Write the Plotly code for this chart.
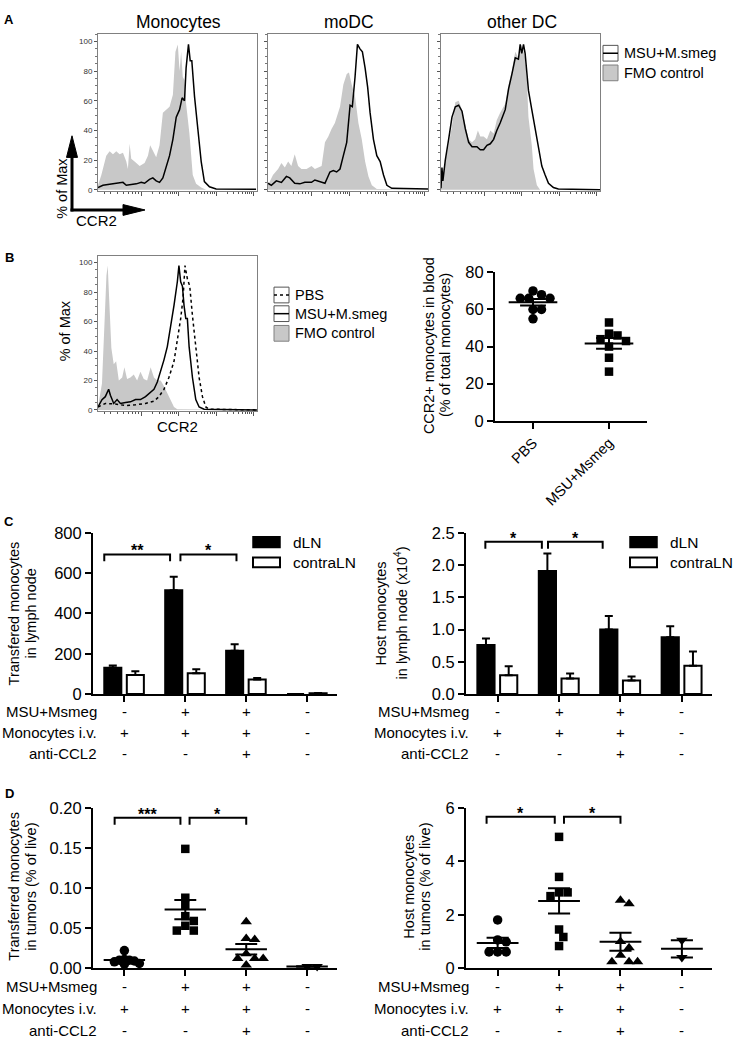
import numpy as np
import plotly.graph_objects as go

W, H = 733, 1047
FONT = "Liberation Sans, Arial, Helvetica, sans-serif"
GREY = "#c8c8c8"

# ----------------------------------------------------------------- data
# Panel A: CCR2 histograms (channel position 0-100 across plot, % of max)
hist_titles = ["Monocytes", "moDC", "other DC"]

mono_fmo_ch = [0.0, 2.1, 5.2, 7.3, 9.4, 11.5, 13.6, 15.7, 17.8, 18.8, 19.9, 20.9, 23.0, 26.2, 29.3, 31.4, 32.8, 34.5, 36.6, 38.7,
               40.8, 42.9, 45.0, 47.1, 48.7, 50.2, 51.3, 52.3, 53.3, 54.4, 55.4, 57.5, 58.6, 59.6, 61.7, 64.9, 68.0, 100]
mono_fmo_pct = [3, 10, 23, 26, 24, 26, 24, 25, 19, 14, 31, 21, 19, 16, 18, 23, 30, 26, 22, 30,
                52, 54, 56, 64, 93, 98, 80, 93, 76, 74, 58, 38, 23, 10, 4, 1.5, 0, 0]
mono_msu_ch = [0, 3.1, 9.4, 15.7, 17.8, 24.1, 27.2, 29.3, 32.4, 34.5, 36.6, 38.7, 40.8, 42.9, 45.0, 47.1, 49.2, 51.3, 52.9, 54.4,
               55.4, 56.9, 58.0, 59.0, 60.7, 62.8, 64.9, 66.9, 70.1, 74.3, 99.4]
mono_msu_pct = [1.5, 3, 4, 5, 3, 4, 5, 4.4, 7, 8, 6, 5, 8, 16, 23, 34, 49, 54, 62, 60,
                82, 98, 87, 87, 63, 41, 19, 5.5, 2, 0.5, 0.3]

modc_fmo_ch = [0, 3.1, 6.3, 8.4, 10.5, 12.6, 14.6, 16.7, 18.8, 20.9, 24.1, 27.2, 29.3, 31.4, 33.5, 35.6, 37.7, 39.7, 41.8, 45.0,
               47.1, 49.2, 50.6, 52.3, 54.4, 56.5, 58.6, 60.7, 62.8, 64.9, 68.0, 100]
modc_fmo_pct = [3, 10, 14, 18, 15, 19, 16, 24, 16, 14, 14, 16, 14, 15, 16, 32, 36, 41, 45, 56,
                71, 78, 79, 71, 63, 45, 34, 19, 9, 3, 0.5, 0]
modc_msu_ch = [0, 2.1, 5.2, 8.4, 11.5, 13.6, 16.7, 19.9, 23.0, 27.2, 29.3, 31.4, 33.5, 35.6, 38.7, 40.8, 42.9, 45.0, 47.1, 49.2,
               51.3, 52.7, 54.4, 55.9, 57.5, 59.0, 60.7, 62.3, 63.8, 65.9, 68.0, 70.1, 72.2, 74.3, 77.4, 92.1, 100]
modc_msu_pct = [4.4, 3, 6, 5, 9, 8, 4.4, 4, 5, 5, 6.6, 6, 5.5, 4.4, 12, 13, 12, 14, 23, 32,
                57, 56, 76, 98, 95, 93, 82, 69, 52, 34, 23, 19, 10, 3, 1, 1, 0.5]

other_fmo_ch = [0, 1.7, 4.8, 6.9, 9.0, 11.1, 13.2, 15.3, 17.4, 19.5, 21.5, 23.2, 24.7, 26.8, 28.9, 31.0, 33.1, 35.1, 37.2, 40.4,
                42.5, 44.6, 46.7, 48.7, 50.8, 52.9, 54.0, 55.0, 57.1, 58.2, 60.3, 62.3, 100]
other_fmo_pct = [1, 14, 30, 43, 59, 60, 54, 43, 34, 32, 34, 40, 36, 36, 34, 40, 38, 47, 52, 58,
                 71, 80, 93, 89, 98, 89, 74, 49, 30, 14, 3, 0, 0]
other_msu_ch = [0, 0.6, 1.2, 2.7, 4.8, 6.9, 9.0, 11.1, 13.2, 15.3, 17.4, 19.5, 22.6, 24.7, 26.8, 28.9, 31.0, 33.1, 35.1, 37.2,
                40.4, 42.5, 44.6, 46.7, 48.7, 49.8, 50.8, 51.9, 52.9, 55.0, 57.1, 59.2, 61.3, 63.4, 65.5, 67.6, 70.7, 73.8, 100]
other_msu_pct = [1, 15, 6, 20, 34, 49, 56, 57, 53, 41, 32, 29, 29, 27, 27, 30, 31, 34, 40, 45,
                 54, 68, 78, 89, 88, 98, 92, 98, 92, 67, 54, 41, 27, 16, 10, 4.4, 1.5, 0.5, 0]

# Panel B histogram
b_fmo_ch = [0, 2.5, 4.2, 5.3, 6.1, 7.2, 8.4, 9.9, 11.4, 13.1, 15.2, 16.6, 18.3, 20.4, 22.5, 24.6, 26.7, 28.8, 30.9, 33.1,
            35.2, 37.3, 39.4, 41.5, 43.6, 45.7, 47.8, 49.9, 100]
b_fmo_pct = [2, 18, 62, 91, 98, 73, 42, 31, 33, 20, 22, 29, 21, 22, 24, 20, 26, 21, 20, 29,
             22, 20, 20, 16, 11, 7, 2, 0.5, 0]
b_msu_ch = [0, 2.5, 4.6, 6.7, 7.8, 9.9, 12.0, 14.1, 17.3, 20.4, 23.6, 26.7, 29.9, 33.1, 35.2, 37.3, 39.4, 41.5, 43.6, 45.7,
            47.8, 49.9, 50.9, 52.0, 53.1, 54.1, 55.2, 56.2, 57.3, 59.4, 61.5, 63.6, 66.7, 100]
b_msu_pct = [2, 7, 9, 14, 10, 4.4, 7, 4.4, 5, 5.5, 7, 7, 9, 12, 14, 19, 26, 34, 43, 56,
             71, 87, 98, 87, 84, 71, 62, 62, 43, 22, 7, 2, 0.5, 0]
b_pbs_ch = [0, 4.6, 10.9, 17.3, 23.6, 29.9, 35.2, 38.3, 41.5, 44.6, 47.8, 49.9, 52.0, 53.5, 54.7, 56.2, 57.7, 59.4, 61.5, 63.6,
            65.7, 67.8, 69.9, 100]
b_pbs_pct = [2, 4.4, 4, 3, 3.5, 4.4, 6, 9, 14, 22, 33, 47, 62, 76, 98, 89, 84, 64, 42, 22,
             9, 2, 0.5, 0]

# Panel B scatter: CCR2+ monocytes in blood (% of total monocytes)
b_groups = ["PBS", "MSU+Msmeg"]
b_pbs = [68, 66, 66, 66, 70, 60, 60, 55]
b_msu = [53, 46, 47, 44, 43, 40, 34, 26.5]

# Panel C bars (mean, SEM)
c_left_dln = [130, 515, 215, 0]
c_left_dln_err = [12, 67, 32, 0]
c_left_contra = [95, 103, 72, 4]
c_left_contra_err = [18, 20, 8, 1]
c_right_dln = [0.76, 1.91, 1.00, 0.88]
c_right_dln_err = [0.10, 0.27, 0.21, 0.17]
c_right_contra = [0.29, 0.24, 0.21, 0.44]
c_right_contra_err = [0.14, 0.08, 0.06, 0.22]

# Panel D scatter
d_left_g1 = [0.022, 0.011, 0.010, 0.010, 0.009, 0.008, 0.006, 0.005]
d_left_g2 = [0.149, 0.088, 0.078, 0.065, 0.059, 0.053, 0.047, 0.047]
d_left_g3 = [0.058, 0.037, 0.036, 0.018, 0.012, 0.012, 0.012, 0.004]
d_left_g4 = [0.002, 0.002]
d_right_g1 = [1.81, 1.06, 0.99, 0.61, 0.61, 0.61]
d_right_g2 = [4.92, 3.42, 2.84, 2.84, 2.70, 1.45, 1.17, 0.83]
d_right_g3 = [2.55, 2.41, 1.00, 0.77, 0.49, 0.24, 0.24, 0.24]
d_right_g4 = [1.05, 0.40]

row_names = ["MSU+Msmeg", "Monocytes i.v.", "anti-CCL2"]
row_msu = ["-", "+", "+", "-"]
row_mono = ["+", "+", "+", "-"]
row_ccl2 = ["-", "-", "+", "-"]


# ----------------------------------------------------------------- helpers
def px(x):
    return x / W


def py(y):
    return 1 - y / H


def keys(n):
    s = "" if n == 1 else str(n)
    return "xaxis" + s, "yaxis" + s, "x" + s, "y" + s


fig = go.Figure()
layout = dict(width=W, height=H, margin=dict(l=0, r=0, t=0, b=0),
              paper_bgcolor="white", plot_bgcolor="white", showlegend=False,
              font=dict(family=FONT, color="black"), barmode="overlay")
shapes, annos = [], []


def text(x, y, t, size, xanchor="center", yanchor="middle", angle=0, xref="paper", yref="paper", color="black", **kw):
    annos.append(dict(x=x, y=y, xref=xref, yref=yref, text=t, showarrow=False, xanchor=xanchor,
                      yanchor=yanchor, textangle=angle, font=dict(size=size, color=color, family=FONT), **kw))


# histogram axes
HMAJ = [27.2, 50.7, 74.3, 97.8]
HMIN = [4, 8, 12, 16, 19, 21.5, 23.5, 25.5]
for base in HMAJ[:3]:
    HMIN += [base + 23.5 * np.log10(k) for k in range(2, 10)]


def hist_axes(n, xd, yd, yrange, labels):
    xk, yk, xr, yr = keys(n)
    layout[xk] = dict(domain=[px(xd[0]), px(xd[1])], range=[0, 100], anchor=yr, showline=True, linecolor="#808080",
                      linewidth=1, mirror=True, ticks="outside", tickvals=HMAJ, ticklen=4, tickcolor="#555",
                      showticklabels=False, showgrid=False, zeroline=False,
                      minor=dict(tickvals=HMIN, ticks="outside", ticklen=2, tickcolor="#555"))
    layout[yk] = dict(domain=[py(yd[1]), py(yd[0])], range=yrange, anchor=xr, showline=True, linecolor="#808080",
                      linewidth=1, mirror=True, ticks="outside", tickvals=[0, 20, 40, 60, 80, 100], ticklen=3,
                      tickcolor="#555", showticklabels=labels, tickfont=dict(size=8, color="#333"),
                      showgrid=False, zeroline=False, minor=dict(dtick=5, ticks="outside", ticklen=2, tickcolor="#777"))
    return xr, yr


def cat_axes(n, xd, yd, yrange, dtick, fmt, xrange=(-0.515, 3.49), tickvals=(0, 1, 2, 3), ticktext=None):
    xk, yk, xr, yr = keys(n)
    layout[xk] = dict(domain=[px(xd[0]), px(xd[1])], range=list(xrange), anchor=yr, showline=True, linecolor="black",
                      linewidth=2, ticks="outside", ticklen=6, tickwidth=2, tickcolor="black",
                      tickvals=list(tickvals), showticklabels=ticktext is not None, showgrid=False, zeroline=False)
    if ticktext is not None:
        layout[xk].update(ticktext=ticktext, tickangle=-45, tickfont=dict(size=14.5))
    layout[yk] = dict(domain=[py(yd[1]), py(yd[0])], range=list(yrange), anchor=xr, showline=True, linecolor="black",
                      linewidth=2, ticks="outside", ticklen=6, tickwidth=2, tickcolor="black", dtick=dtick, tick0=0,
                      tickformat=fmt, tickfont=dict(size=16.5), showgrid=False, zeroline=False)
    return xr, yr


def swarm(vals, ypu, xpu, diam):
    vals = np.asarray(vals, float)
    order = np.argsort(-vals, kind="stable")
    placed, offs = [], np.zeros(len(vals))
    for i in order:
        y = vals[i] * ypu
        for k in [0, 1, -1, 2, -2, 3, -3, 4, -4, 5, -5, 6, -6, 7, -7, 8, -8]:
            x = k * diam * 0.5
            if all((x - a) ** 2 + (y - b) ** 2 >= (diam * 0.95) ** 2 for a, b in placed):
                break
        placed.append((x, y))
        offs[i] = x / xpu
    return offs


def mean_sem(groups, xr, yr, half, cap):
    xs, ys = [], []
    for i, v in enumerate(groups):
        v = np.asarray(v, float)
        m = v.mean()
        s = v.std(ddof=1) / np.sqrt(len(v))
        xs += [i - half, i + half, None, i, i, None, i - cap, i + cap, None, i - cap, i + cap, None]
        ys += [m, m, None, m - s, m + s, None, m - s, m - s, None, m + s, m + s, None]
    fig.add_trace(go.Scatter(x=xs, y=ys, mode="lines", line=dict(color="black", width=2), xaxis=xr, yaxis=yr,
                             cliponaxis=False, hoverinfo="skip"))


def bracket(xr, yr, x0, x1, y, drop, stars, yshift=-7):
    shapes.append(dict(type="path", xref=xr, yref=yr, path=f"M {x0},{y - drop} L {x0},{y} L {x1},{y} L {x1},{y - drop}",
                       line=dict(color="black", width=2)))
    text((x0 + x1) / 2, y, f"<b>{stars}</b>", 16, yanchor="bottom", xref=xr, yref=yr, yshift=yshift)


def box(x0, y0, x1, y1, fill, line="black", lw=1.5):
    shapes.append(dict(type="rect", xref="paper", yref="paper", x0=px(x0), x1=px(x1), y0=py(y1), y1=py(y0),
                       fillcolor=fill, line=dict(color=line, width=lw)))


def hline(x0, x1, y, dash="solid", w=1.5):
    shapes.append(dict(type="line", xref="paper", yref="paper", x0=px(x0), x1=px(x1), y0=py(y), y1=py(y),
                       line=dict(color="black", width=w, dash=dash)))


# ----------------------------------------------------------------- panel A
hist_data = [(mono_fmo_ch, mono_fmo_pct, mono_msu_ch, mono_msu_pct),
             (modc_fmo_ch, modc_fmo_pct, modc_msu_ch, modc_msu_pct),
             (other_fmo_ch, other_fmo_pct, other_msu_ch, other_msu_pct)]
hist_x = [(98, 257), (268, 428), (441, 600)]
for i, (fx, fy, mx, my) in enumerate(hist_data):
    xr, yr = hist_axes(i + 1, hist_x[i], (25, 185), [-0.7, 105.3], i == 0)
    fig.add_trace(go.Scatter(x=fx, y=fy, mode="lines", fill="tozeroy", fillcolor=GREY, line=dict(width=0, color=GREY),
                             xaxis=xr, yaxis=yr, hoverinfo="skip"))
    fig.add_trace(go.Scatter(x=mx, y=my, mode="lines", line=dict(width=1.5, color="black"), xaxis=xr, yaxis=yr,
                             hoverinfo="skip"))
    text(px(sum(hist_x[i]) / 2 + 1), py(13), hist_titles[i], 17.5)

# A legend
box(603, 37, 618, 53, "white", "#555", 1)
hline(603, 618, 45)
box(603, 57, 618, 73, GREY, "#808080", 1)
text(px(622), py(45), "MSU+M.smeg", 14.5, xanchor="left")
text(px(622), py(65), "FMO control", 14.5, xanchor="left")

# A axis arrows
shapes.append(dict(type="line", xref="paper", yref="paper", x0=px(72), x1=px(72), y0=py(206), y1=py(148),
                   line=dict(color="black", width=3)))
shapes.append(dict(type="path", xref="paper", yref="paper",
                   path=f"M {px(72)},{py(129)} L {px(66.5)},{py(151)} L {px(77.5)},{py(151)} Z",
                   fillcolor="black", line=dict(color="black", width=1)))
shapes.append(dict(type="line", xref="paper", yref="paper", x0=px(70.5), x1=px(125), y0=py(204.5), y1=py(204.5),
                   line=dict(color="black", width=3)))
shapes.append(dict(type="path", xref="paper", yref="paper",
                   path=f"M {px(145)},{py(204.5)} L {px(123)},{py(199)} L {px(123)},{py(210)} Z",
                   fillcolor="black", line=dict(color="black", width=1)))
text(px(62), py(183), "% of Max", 14.5, angle=-90)
text(px(96), py(215), "CCR2", 15)

# ----------------------------------------------------------------- panel B
xr, yr = hist_axes(4, (98, 257), (251, 409), [-0.7, 104.7], True)
fig.add_trace(go.Scatter(x=b_fmo_ch, y=b_fmo_pct, mode="lines", fill="tozeroy", fillcolor=GREY,
                         line=dict(width=0, color=GREY), xaxis=xr, yaxis=yr, hoverinfo="skip"))
fig.add_trace(go.Scatter(x=b_pbs_ch, y=b_pbs_pct, mode="lines", line=dict(width=1.5, color="black", dash="dot"),
                         xaxis=xr, yaxis=yr, hoverinfo="skip"))
fig.add_trace(go.Scatter(x=b_msu_ch, y=b_msu_pct, mode="lines", line=dict(width=1.5, color="black"),
                         xaxis=xr, yaxis=yr, hoverinfo="skip"))
text(px(65), py(328), "% of Max", 14.5, angle=-90)
text(px(177), py(425), "CCR2", 15)

box(274, 283, 289, 299, "white", "#555", 1)
hline(274, 289, 291, "dot")
box(274, 302, 289, 318, "white", "#555", 1)
hline(274, 289, 310)
box(274, 322, 289, 338, GREY, "#808080", 1)
text(px(293), py(291), "PBS", 14.5, xanchor="left")
text(px(293), py(310), "MSU+M.smeg", 14.5, xanchor="left")
text(px(293), py(330), "FMO control", 14.5, xanchor="left")

xr, yr = cat_axes(5, (495, 647), (268, 419), (0, 80), 20, "d", xrange=(-0.5, 1.5), tickvals=(0, 1),
                  ticktext=b_groups)
b_sets = [b_pbs, b_msu]
for i, (vals, sym, size) in enumerate(zip(b_sets, ["circle", "square"], [9.5, 8.5])):
    off = swarm(vals, 151 / 80, 76, 8.5)
    fig.add_trace(go.Scatter(x=i + off, y=vals, mode="markers", marker=dict(symbol=sym, size=size, color="black"),
                             xaxis=xr, yaxis=yr, cliponaxis=False, hoverinfo="skip"))
mean_sem(b_sets, xr, yr, 0.32, 0.17)
bracket(xr, yr, 0, 1.05, 85.3, 3.7, "***")
text(px(429), py(342), "CCR2+ monocytes in blood", 14.5, angle=-90)
text(px(445), py(342), "(% of total monocytes)", 14.5, angle=-90)

# ----------------------------------------------------------------- panel C
c_panels = [
    dict(n=6, xd=(93, 337), yr=(0, 800), dt=200, fmt="d", dln=c_left_dln, dle=c_left_dln_err,
         con=c_left_contra, coe=c_left_contra_err,
         br=[(-0.33, 0.75, "**"), (0.92, 1.84, "*")], by=693, bd=34,
         t1=("Transfered monocytes", 14), t2=("in lymph node", 31), lab_x=99, leg_x=253),
    dict(n=7, xd=(466, 712), yr=(0, 2.5), dt=0.5, fmt=".1f", dln=c_right_dln, dle=c_right_dln_err,
         con=c_right_contra, coe=c_right_contra_err,
         br=[(-0.2, 0.72, "*"), (0.82, 1.71, "*")], by=2.36, bd=0.107,
         t1=("Host monocytes", 381), t2=("in lymph node (x10<sup>4</sup>)", 401), lab_x=471, leg_x=630),
]
for p in c_panels:
    xr, yr = cat_axes(p["n"], p["xd"], (533, 697), p["yr"], p["dt"], p["fmt"])
    g = list(range(4))
    fig.add_trace(go.Bar(x=g, y=p["dln"], width=0.28, offset=-0.33, xaxis=xr, yaxis=yr,
                         marker=dict(color="black", line=dict(color="black", width=2)),
                         error_y=dict(type="data", array=p["dle"], arrayminus=[0] * 4, symmetric=False,
                                      color="black", thickness=2, width=4), hoverinfo="skip"))
    fig.add_trace(go.Bar(x=g, y=p["con"], width=0.28, offset=0.04, xaxis=xr, yaxis=yr,
                         marker=dict(color="white", line=dict(color="black", width=2)),
                         error_y=dict(type="data", array=p["coe"], arrayminus=[0] * 4, symmetric=False,
                                      color="black", thickness=2, width=4), hoverinfo="skip"))
    for x0, x1, s in p["br"]:
        bracket(xr, yr, x0, x1, p["by"], p["bd"], s)
    text(px(p["t1"][1]), py(615), p["t1"][0], 14.5, angle=-90)
    text(px(p["t2"][1]), py(615), p["t2"][0], 14.5, angle=-90)
    lx = p["leg_x"]
    box(lx, 537, lx + 27, 548, "black", "black", 1.5)
    box(lx, 558, lx + 27, 568, "white", "black", 2)
    text(px(lx + 38), py(543), "dLN", 15.5, xanchor="left")
    text(px(lx + 38), py(563), "contraLN", 15.5, xanchor="left")
    for r, (name, row) in enumerate(zip(row_names, [row_msu, row_mono, row_ccl2])):
        yy = py(715 + 21.5 * r)
        text(px(p["lab_x"]), yy, name, 15, xanchor="right")
        for i, s in enumerate(row):
            text(i, yy, s, 15, xref=xr)

# ----------------------------------------------------------------- panel D
d_panels = [
    dict(n=8, xd=(93, 337), yr=(0, 0.2), dt=0.05, fmt=".2f", groups=[d_left_g1, d_left_g2, d_left_g3, d_left_g4],
         ypu=163 / 0.2, sw=[5, 8.5, 8.5, 10], br=[(-0.16, 0.92, "***"), (1.07, 2.0, "*")], by=0.1877, bd=0.0086,
         t1=("Transferred monocytes", 14), t2=("in tumors (% of live)", 31), lab_x=99),
    dict(n=9, xd=(466, 712), yr=(0, 6), dt=2, fmt="d", groups=[d_right_g1, d_right_g2, d_right_g3, d_right_g4],
         ypu=163 / 6, sw=[8.5, 8.5, 8.5, 8.5], br=[(-0.18, 0.93, "*"), (1.08, 2.0, "*")], by=5.67, bd=0.26,
         t1=("Host monocytes", 409), t2=("in tumors (% of live)", 425), lab_x=471),
]
d_syms = [("circle", 9.5), ("square", 8.5), ("triangle-up", 10), ("triangle-down", 10)]
for p in d_panels:
    xr, yr = cat_axes(p["n"], p["xd"], (813, 976), p["yr"], p["dt"], p["fmt"])
    for i, vals in enumerate(p["groups"]):
        off = swarm(vals, p["ypu"], 61, p["sw"][i])
        sym, size = d_syms[i]
        fig.add_trace(go.Scatter(x=i + off, y=vals, mode="markers", marker=dict(symbol=sym, size=size, color="black"),
                                 xaxis=xr, yaxis=yr, cliponaxis=False, hoverinfo="skip"))
    mean_sem(p["groups"], xr, yr, 0.34, 0.18)
    for x0, x1, s in p["br"]:
        bracket(xr, yr, x0, x1, p["by"], p["bd"], s)
    text(px(p["t1"][1]), py(893), p["t1"][0], 14.5, angle=-90)
    text(px(p["t2"][1]), py(893), p["t2"][0], 14.5, angle=-90)
    for r, (name, row) in enumerate(zip(row_names, [row_msu, row_mono, row_ccl2])):
        yy = py(995 + 22 * r)
        text(px(p["lab_x"]), yy, name, 15, xanchor="right")
        for i, s in enumerate(row):
            text(i, yy, s, 15, xref=xr)

# panel letters
for letter, yy in [("A", 11), ("B", 253), ("C", 521), ("D", 798)]:
    text(px(9), py(yy), f"<b>{letter}</b>", 13)

layout["shapes"] = shapes
layout["annotations"] = annos
fig.update_layout(**layout)
fig.write_html("out.html", config={"displayModeBar": False},
               post_script="document.body.style.margin='0px';document.body.style.overflow='hidden';")
